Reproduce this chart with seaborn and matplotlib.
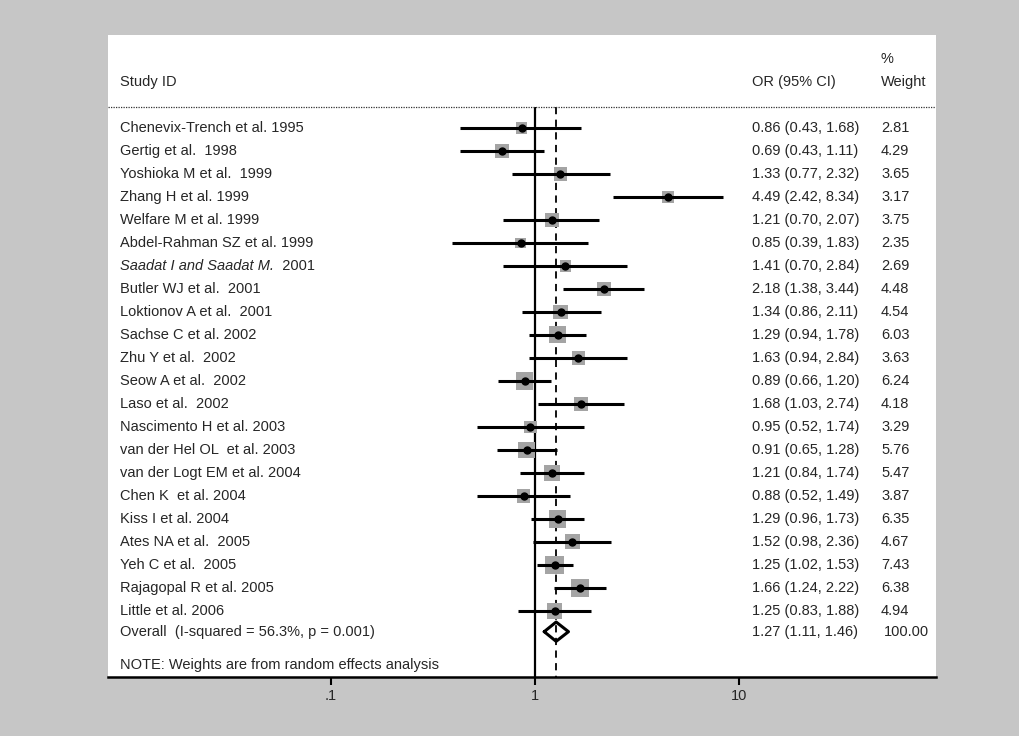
import matplotlib
matplotlib.use('Agg')
import matplotlib.pyplot as plt
import numpy as np
import pandas as pd
import seaborn as sns

studies = [
    'Chenevix-Trench et al. 1995', 'Gertig et al.  1998', 'Yoshioka M et al.  1999',
    'Zhang H et al. 1999', 'Welfare M et al. 1999', 'Abdel-Rahman SZ et al. 1999',
    'Saadat I and Saadat M.  2001', 'Butler WJ et al.  2001', 'Loktionov A et al.  2001',
    'Sachse C et al. 2002', 'Zhu Y et al.  2002', 'Seow A et al.  2002',
    'Laso et al.  2002', 'Nascimento H et al. 2003', 'van der Hel OL  et al. 2003',
    'van der Logt EM et al. 2004', 'Chen K  et al. 2004', 'Kiss I et al. 2004',
    'Ates NA et al.  2005', 'Yeh C et al.  2005', 'Rajagopal R et al. 2005',
    'Little et al. 2006',
]
odds = [0.86, 0.69, 1.33, 4.49, 1.21, 0.85, 1.41, 2.18, 1.34, 1.29, 1.63,
        0.89, 1.68, 0.95, 0.91, 1.21, 0.88, 1.29, 1.52, 1.25, 1.66, 1.25]
ci_lo = [0.43, 0.43, 0.77, 2.42, 0.70, 0.39, 0.70, 1.38, 0.86, 0.94, 0.94,
         0.66, 1.03, 0.52, 0.65, 0.84, 0.52, 0.96, 0.98, 1.02, 1.24, 0.83]
ci_hi = [1.68, 1.11, 2.32, 8.34, 2.07, 1.83, 2.84, 3.44, 2.11, 1.78, 2.84,
         1.20, 2.74, 1.74, 1.28, 1.74, 1.49, 1.73, 2.36, 1.53, 2.22, 1.88]
weights = [2.81, 4.29, 3.65, 3.17, 3.75, 2.35, 2.69, 4.48, 4.54, 6.03, 3.63,
           6.24, 4.18, 3.29, 5.76, 5.47, 3.87, 6.35, 4.67, 7.43, 6.38, 4.94]

overall_label = 'Overall  (I-squared = 56.3%, p = 0.001)'
overall_or, overall_lo, overall_hi, overall_w = 1.27, 1.11, 1.46, 100.00
note = 'NOTE: Weights are from random effects analysis'

tick_vals = [0.1, 1, 10]
tick_labels = ['.1', '1', '10']

df = pd.DataFrame({'study': studies, 'or': odds, 'lo': ci_lo, 'hi': ci_hi, 'w': weights})
df['row'] = np.arange(len(df))
overall_row = len(df) - 0.1

sns.set_theme(style='white')
plt.rcParams['font.family'] = ['Liberation Sans', 'DejaVu Sans']
plt.rcParams['font.size'] = 10.5

fig = plt.figure(figsize=(10.2, 7.36), dpi=100)
fig.patch.set_facecolor('#c6c6c6')
ax = fig.add_axes([108 / 1020, 59 / 736, 828 / 1020, 642 / 736])
ax.set_facecolor('white')

ax.set_xscale('log')
ax.set_xlim(10 ** -2.093, 10 ** 1.966)
ax.set_ylim(23.87, -4.04)
head_line = -0.91

# reference lines
ax.vlines(1, head_line, 23.87, color='black', lw=1.6, zorder=1)
ax.vlines(overall_or, head_line, 23.87, color='black', lw=1.3,
          linestyles=(0, (4, 3)), zorder=1)
ax.axhline(head_line, color='#333333', lw=0.9, ls=(0, (1, 1)))

# confidence intervals
ax.hlines(df['row'], df['lo'], df['hi'], color='black', lw=2.2, zorder=3)

# weight boxes (area proportional to weight)
k = 25
sns.scatterplot(data=df, x='or', y='row', size='w',
                sizes=(k * min(weights), k * max(weights)),
                size_norm=(min(weights), max(weights)),
                marker='s', color='#a4a4a4', edgecolor='none',
                legend=False, ax=ax, zorder=2)
ax.plot(df['or'], df['row'], 'o', color='black', ms=5, zorder=4)

# overall diamond
dh = 0.42
ax.plot([overall_lo, overall_or, overall_hi, overall_or, overall_lo],
        [overall_row, overall_row - dh, overall_row, overall_row + dh, overall_row],
        color='black', lw=2.2, zorder=4)

# text columns
tr = ax.get_yaxis_transform()
x_lab, x_or, x_w = 12 / 828, 644 / 828, 773 / 828
head_row = -2.0
ax.text(x_lab, head_row, 'Study ID', transform=tr, va='center')
ax.text(x_or, head_row, 'OR (95% CI)', transform=tr, va='center')
ax.text(x_w, head_row, 'Weight', transform=tr, va='center')
ax.text(x_w, -3.0, '%', transform=tr, va='center')

for i, r in df.iterrows():
    if r['study'].startswith('Saadat'):
        t = ax.text(x_lab, r['row'], 'Saadat I and Saadat M.', transform=tr,
                    va='center', style='italic')
        ax.annotate('  2001', xy=(1, 0.5), xycoords=t, va='center')
    else:
        ax.text(x_lab, r['row'], r['study'], transform=tr, va='center')
    ax.text(x_or, r['row'], f"{r['or']:.2f} ({r['lo']:.2f}, {r['hi']:.2f})",
            transform=tr, va='center')
    ax.text(x_w, r['row'], f"{r['w']:.2f}", transform=tr, va='center')

ax.text(x_lab, overall_row, overall_label, transform=tr, va='center')
ax.text(x_or, overall_row, f"{overall_or:.2f} ({overall_lo:.2f}, {overall_hi:.2f})",
        transform=tr, va='center')
ax.text(x_w + 0.003, overall_row, f"{overall_w:.2f}", transform=tr, va='center')
ax.text(x_lab, 23.35, note, transform=tr, va='center')

# axis
for s in ['top', 'left', 'right']:
    ax.spines[s].set_visible(False)
ax.spines['bottom'].set_linewidth(1.8)
ax.spines['bottom'].set_color('black')
ax.set_yticks([])
ax.set_xticks(tick_vals)
ax.set_xticklabels(tick_labels)
ax.xaxis.set_minor_locator(matplotlib.ticker.NullLocator())
ax.tick_params(axis='x', direction='out', length=6, width=1.5, color='black',
               pad=3, labelsize=10.5, bottom=True)
ax.set_xlabel('')
ax.set_ylabel('')

fig.savefig('out.png', dpi=100, facecolor=fig.get_facecolor())
